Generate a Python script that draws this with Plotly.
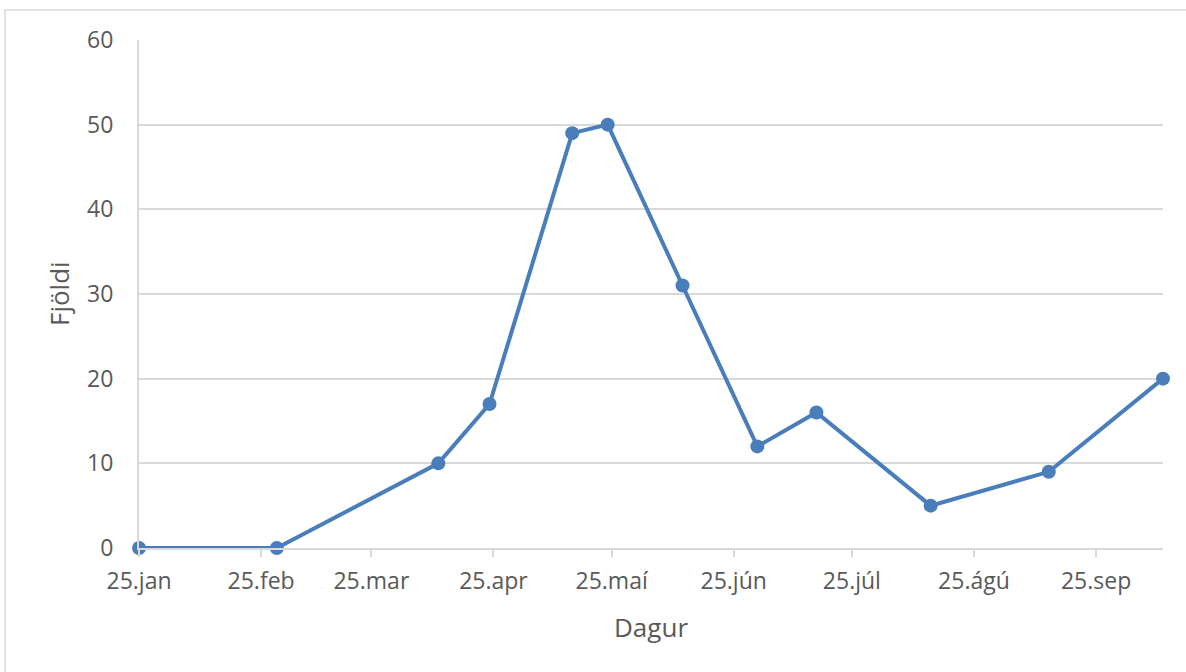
import plotly.graph_objects as go

dates = ["2021-01-25", "2021-03-01", "2021-04-11", "2021-04-24", "2021-05-15", "2021-05-24",
         "2021-06-12", "2021-07-01", "2021-07-16", "2021-08-14", "2021-09-13", "2021-10-12"]
values = [0, 0, 10, 17, 49, 50, 31, 12, 16, 5, 9, 20]

tick_dates = ["2021-01-25", "2021-02-25", "2021-03-25", "2021-04-25", "2021-05-25",
              "2021-06-25", "2021-07-25", "2021-08-25", "2021-09-25"]
tick_labels = ["25.jan", "25.feb", "25.mar", "25.apr", "25.maí", "25.jún", "25.júl", "25.ágú", "25.sep"]
y_ticks = [0, 10, 20, 30, 40, 50, 60]

W, H = 1186, 672
L, R, T, B = 139, 1163, 40, 548
fnt = "Open Sans, Liberation Sans, sans-serif"
txt = "#595959"
blue = "#4A7EBB"
grey = "#D9D9D9"

fig = go.Figure()
fig.add_trace(go.Scatter(
    x=dates, y=values, mode="lines+markers",
    line=dict(color=blue, width=4),
    marker=dict(color=blue, size=14),
    cliponaxis=False, showlegend=False, hoverinfo="skip",
))

pw, ph = R - L, B - T
def px(x):
    return (x - L) / pw
def py(y):
    return (B - y) / ph

fig.update_layout(
    width=W, height=H,
    margin=dict(l=L, r=W - R, t=T, b=H - B),
    paper_bgcolor="white", plot_bgcolor="white",
    font=dict(family=fnt, color=txt, size=23),
    xaxis=dict(
        type="date", range=[dates[0], dates[-1]],
        tickmode="array", tickvals=tick_dates, ticktext=tick_labels,
        showgrid=False, showline=True, linecolor=grey, linewidth=2,
        ticks="outside", ticklen=7, tickcolor=grey, tickwidth=2,
        ticklabelstandoff=4,
        tickfont=dict(size=23, color=txt),
        zeroline=False,
    ),
    yaxis=dict(
        range=[0, 60], tickvals=y_ticks,
        showgrid=True, gridcolor=grey, gridwidth=1.5,
        showline=True, linecolor=grey, linewidth=2,
        ticks="", ticklabelstandoff=19,
        tickfont=dict(size=23, color=txt),
        zeroline=False,
    ),
    shapes=[dict(type="rect", xref="paper", yref="paper",
                 x0=px(5), x1=px(1300), y0=py(800), y1=py(10),
                 line=dict(color=grey, width=1.5), layer="below")],
    annotations=[
        dict(text="Dagur", xref="paper", yref="paper", x=0.5, y=py(627),
             xanchor="center", yanchor="middle", showarrow=False,
             font=dict(size=26, color=txt)),
        dict(text="Fjöldi", xref="paper", yref="paper", x=px(59), y=0.5,
             xanchor="center", yanchor="middle", showarrow=False, textangle=-90,
             font=dict(size=26, color=txt)),
    ],
)

fig.write_html("out.html", config={"displayModeBar": False},
               post_script="document.body.style.margin='0';document.body.style.overflow='hidden';")
